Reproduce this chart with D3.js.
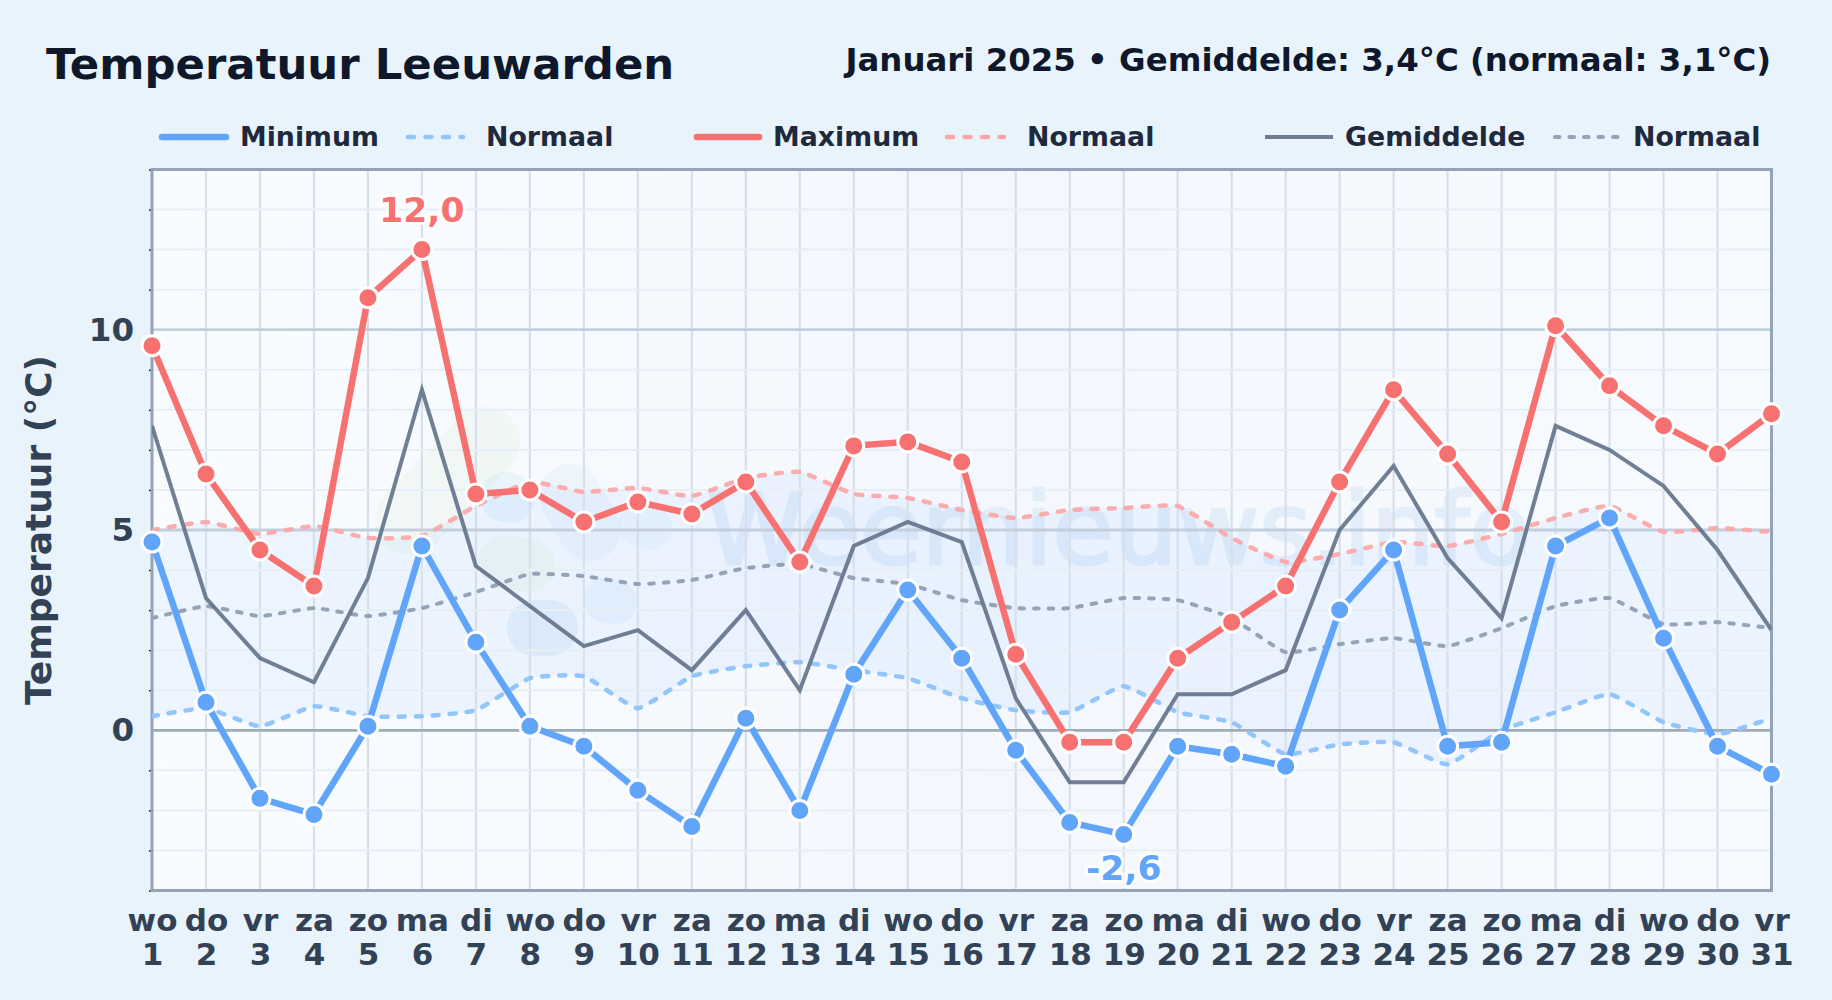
<!DOCTYPE html>
<html>
<head>
<meta charset="utf-8">
<title>Temperatuur Leeuwarden</title>
<script src="https://cdn.jsdelivr.net/npm/d3@7"></script>
<style>
    html, body { margin: 0; padding: 0; background: #e8f3fc; }
    svg { display: block; }
    text { font-family: "DejaVu Sans", sans-serif; font-weight: bold; }
</style>
</head>
<body>
<div id="chart"></div>
<script>
// Values (degrees C, one per day of January 2025)
const days = ['wo','do','vr','za','zo','ma','di','wo','do','vr','za','zo','ma','di','wo','do','vr','za','zo','ma','di','wo','do','vr','za','zo','ma','di','wo','do','vr'];
const dayNumbers = d3.range(1, 32);
const minimum = [4.7,0.7,-1.7,-2.1,0.1,4.6,2.2,0.1,-0.4,-1.5,-2.4,0.3,-2.0,1.4,3.5,1.8,-0.5,-2.3,-2.6,-0.4,-0.6,-0.9,3.0,4.5,-0.4,-0.3,4.6,5.3,2.3,-0.4,-1.1];
const maximum = [9.6,6.4,4.5,3.6,10.8,12.0,5.9,6.0,5.2,5.7,5.4,6.2,4.2,7.1,7.2,6.7,1.9,-0.3,-0.3,1.8,2.7,3.6,6.2,8.5,6.9,5.2,10.1,8.6,7.6,6.9,7.9];
const average = [7.6,3.3,1.8,1.2,3.8,8.5,4.1,3.1,2.1,2.5,1.5,3.0,1.0,4.6,5.2,4.7,0.8,-1.3,-1.3,0.9,0.9,1.5,5.0,6.6,4.3,2.8,7.6,7.0,6.1,4.5,2.5];
const normalMin = [0.35,0.55,0.1,0.6,0.35,0.35,0.5,1.3,1.35,0.55,1.35,1.6,1.7,1.5,1.3,0.8,0.5,0.45,1.1,0.45,0.2,-0.6,-0.35,-0.3,-0.85,0,0.45,0.9,0.2,-0.1,0.3];
const normalMax = [5.0,5.2,4.9,5.1,4.8,4.85,5.6,6.2,5.95,6.05,5.85,6.3,6.45,5.9,5.8,5.5,5.3,5.5,5.55,5.6,4.8,4.2,4.4,4.7,4.6,4.9,5.3,5.6,4.95,5.05,4.95];
const normalAvg = [2.8,3.1,2.85,3.05,2.85,3.05,3.45,3.9,3.85,3.65,3.75,4.05,4.15,3.8,3.65,3.25,3.05,3.05,3.3,3.25,2.8,1.95,2.15,2.3,2.1,2.55,3.1,3.3,2.65,2.7,2.55];
const yTicks = [0, 5, 10];

const config = {
    width: 1832,
    height: 1000,
    left: 152,
    right: 1771.5,
    top: 169.5,
    bottom: 890.5
};

const svg = d3.select('#chart')
    .append('svg')
    .attr('width', config.width)
    .attr('height', config.height);

const x = d3.scaleLinear().domain([1, 31]).range([config.left, config.right]);
const y = d3.scaleLinear().domain([-4, 14]).range([config.bottom, config.top]);

svg.append('rect')
    .attr('width', config.width)
    .attr('height', config.height)
    .attr('fill', '#e8f3fc');

const defs = svg.append('defs');
defs.append('clipPath').attr('id', 'plot-clip')
    .append('rect')
    .attr('x', config.left)
    .attr('y', config.top)
    .attr('width', config.right - config.left)
    .attr('height', config.bottom - config.top);

const plotGradient = defs.append('linearGradient').attr('id', 'plot-bg');
plotGradient.append('stop').attr('offset', '0%').attr('stop-color', '#f9fcff');
plotGradient.append('stop').attr('offset', '50%').attr('stop-color', '#f4f8fe');
plotGradient.append('stop').attr('offset', '100%').attr('stop-color', '#f7fbff');

// Plot background
svg.append('rect')
    .attr('x', config.left)
    .attr('y', config.top)
    .attr('width', config.right - config.left)
    .attr('height', config.bottom - config.top)
    .attr('fill', 'url(#plot-bg)');

// Watermark: logo blobs and site name
const mark = svg.append('g').attr('clip-path', 'url(#plot-clip)');
const blobs = [
    ['#d9eccf', 0.2, 410, 520, 485, 442, 70],
    ['#d9eccf', 0.2, 505, 562, 528, 565, 54],
    ['#bcd9f2', 0.22, 505, 497, 510, 498, 50],
    ['#cfe6f8', 0.24, 570, 495, 590, 530, 62],
    ['#cfe6f8', 0.22, 640, 525, 650, 528, 44],
    ['#bcd9f2', 0.3, 535, 628, 550, 628, 56],
    ['#cfe6f8', 0.3, 605, 600, 615, 602, 44]
];
blobs.forEach(function(b) {
    mark.append('line')
        .attr('x1', b[2]).attr('y1', b[3])
        .attr('x2', b[4]).attr('y2', b[5])
        .attr('stroke', b[0])
        .attr('stroke-opacity', b[1])
        .attr('stroke-width', b[6])
        .attr('stroke-linecap', 'round');
});
mark.append('text')
    .attr('x', 706)
    .attr('y', 564)
    .attr('font-size', 100)
    .style('font-weight', 'normal')
    .attr('fill', '#bcd7f0')
    .attr('stroke', '#bcd7f0')
    .attr('stroke-width', 3)
    .attr('opacity', 0.32)
    .text('Weernieuws.info');

// Band between the normal minimum and normal maximum
const smooth = d3.curveCardinal.tension(0.6);
const band = d3.area()
    .x((d, i) => x(dayNumbers[i]))
    .y0((d, i) => y(normalMin[i]))
    .y1((d, i) => y(normalMax[i]))
    .curve(smooth);
svg.append('path')
    .datum(dayNumbers)
    .attr('clip-path', 'url(#plot-clip)')
    .attr('d', band)
    .attr('fill', '#60a5fa')
    .attr('fill-opacity', 0.08);

// Grid
const grid = svg.append('g');
grid.selectAll('.vgrid')
    .data(dayNumbers)
    .enter()
    .append('line')
    .attr('class', 'vgrid')
    .attr('x1', d => x(d)).attr('x2', d => x(d))
    .attr('y1', config.top).attr('y2', config.bottom)
    .attr('stroke', '#d6e0eb')
    .attr('stroke-width', 2.2);
grid.selectAll('.hgrid')
    .data(d3.range(-4, 15))
    .enter()
    .append('line')
    .attr('class', 'hgrid')
    .attr('x1', config.left).attr('x2', config.right)
    .attr('y1', d => y(d)).attr('y2', d => y(d))
    .attr('stroke', d => d === 0 ? '#9eabb9' : (d % 5 === 0 ? '#c3cfdd' : '#e7eef5'))
    .attr('stroke-width', d => d % 5 === 0 ? 2.8 : 2);

// Axes
const yMinor = svg.append('g')
    .attr('transform', `translate(${config.left},0)`)
    .call(d3.axisLeft(y).tickValues(d3.range(-4, 15).filter(d => d % 5 !== 0)).tickSize(3).tickFormat(''));
yMinor.select('.domain').remove();
yMinor.selectAll('line').attr('stroke', '#111').attr('stroke-width', 1.4);

const yAxis = svg.append('g')
    .attr('transform', `translate(${config.left},0)`)
    .call(d3.axisLeft(y).tickValues(yTicks).tickSize(0).tickPadding(18));
yAxis.select('.domain').remove();
yAxis.selectAll('text')
    .style('font-family', '"DejaVu Sans", sans-serif')
    .style('font-weight', 'bold')
    .style('font-size', '32.5px')
    .attr('fill', '#334155');

const xAxis = svg.append('g')
    .attr('transform', `translate(0,${config.bottom})`)
    .call(d3.axisBottom(x).tickValues(dayNumbers).tickSize(0).tickFormat(''));
xAxis.select('.domain').remove();
xAxis.selectAll('.tick text').each(function(d, i) {
    const t = d3.select(this)
        .attr('y', 0).attr('dy', null)
        .style('font-family', '"DejaVu Sans", sans-serif')
        .style('font-weight', 'bold')
        .style('font-size', '31px')
        .attr('fill', '#334155');
    t.append('tspan').attr('x', 0).attr('y', 40.5).text(days[i]);
    t.append('tspan').attr('x', 0).attr('y', 74).text(dayNumbers[i]);
});

// Plot frame
svg.append('rect')
    .attr('x', config.left)
    .attr('y', config.top)
    .attr('width', config.right - config.left)
    .attr('height', config.bottom - config.top)
    .attr('fill', 'none')
    .attr('stroke', '#94a3b8')
    .attr('stroke-width', 3);

// Line generators
const straight = values => d3.line()
    .x((d, i) => x(dayNumbers[i]))
    .y((d, i) => y(values[i]))(values);
const curved = values => d3.line()
    .x((d, i) => x(dayNumbers[i]))
    .y((d, i) => y(values[i]))
    .curve(smooth)(values);

const lines = svg.append('g').attr('fill', 'none');
const clipped = lines.append('g').attr('clip-path', 'url(#plot-clip)');

clipped.append('path').attr('d', curved(normalMin))
    .attr('stroke', '#93c5fd').attr('stroke-width', 4.5).attr('stroke-dasharray', '6,11').attr('stroke-linecap', 'round');
clipped.append('path').attr('d', curved(normalMax))
    .attr('stroke', '#fca5a5').attr('stroke-opacity', 0.9).attr('stroke-width', 4.5).attr('stroke-dasharray', '6,11').attr('stroke-linecap', 'round');
clipped.append('path').attr('d', curved(normalAvg))
    .attr('stroke', '#94a3b8').attr('stroke-width', 4).attr('stroke-dasharray', '4.5,10').attr('stroke-linecap', 'round');
clipped.append('path').attr('d', straight(average))
    .attr('stroke', '#64748b').attr('stroke-width', 4).attr('stroke-opacity', 0.92);

function drawDots(values, color) {
    lines.append('path').attr('d', straight(values))
        .attr('stroke', color).attr('stroke-width', 6.5);
    svg.append('g').selectAll('circle')
        .data(values)
        .enter()
        .append('circle')
        .attr('cx', (d, i) => x(dayNumbers[i]))
        .attr('cy', d => y(d))
        .attr('r', 10)
        .attr('fill', color)
        .attr('stroke', '#ffffff')
        .attr('stroke-width', 3);
}
drawDots(minimum, '#60a5fa');
drawDots(maximum, '#f87171');

// Extreme value labels
function extremeLabel(value, day, dy, color) {
    svg.append('text')
        .attr('x', x(day))
        .attr('y', y(value) + dy)
        .attr('text-anchor', 'middle')
        .attr('font-size', 34.5)
        .attr('fill', color)
        .attr('stroke', '#ffffff')
        .attr('stroke-width', 6)
        .attr('stroke-opacity', 0.9)
        .attr('paint-order', 'stroke')
        .text(String(value.toFixed(1)).replace('.', ','));
}
extremeLabel(d3.max(maximum), dayNumbers[maximum.indexOf(d3.max(maximum))], -28, '#f87171');
extremeLabel(d3.min(minimum), dayNumbers[minimum.indexOf(d3.min(minimum))], 46, '#60a5fa');

// Titles
svg.append('text')
    .attr('x', 46).attr('y', 78.5)
    .attr('font-size', 43.4)
    .attr('fill', '#0f172a')
    .text('Temperatuur Leeuwarden');
svg.append('text')
    .attr('x', 1771).attr('y', 70.5)
    .attr('text-anchor', 'end')
    .attr('font-size', 32.4)
    .attr('fill', '#0f172a')
    .text('Januari 2025 \u2022 Gemiddelde: 3,4\u00B0C (normaal: 3,1\u00B0C)');
svg.append('text')
    .attr('transform', `translate(50.5,530) rotate(-90)`)
    .attr('text-anchor', 'middle')
    .attr('font-size', 36)
    .attr('fill', '#334155')
    .text('Temperatuur (\u00B0C)');

// Legend
const legendItems = [
    { label: 'Minimum', x1: 162, x2: 226, tx: 240, color: '#60a5fa', w: 6.5 },
    { label: 'Normaal', x1: 408, x2: 463, tx: 486, color: '#93c5fd', w: 4.5, dash: '6,11.5' },
    { label: 'Maximum', x1: 697, x2: 759, tx: 773, color: '#f87171', w: 6.5 },
    { label: 'Normaal', x1: 947, x2: 1004, tx: 1027, color: '#fca5a5', w: 4.5, dash: '6,11.5' },
    { label: 'Gemiddelde', x1: 1265, x2: 1333, tx: 1345, color: '#64748b', w: 4 },
    { label: 'Normaal', x1: 1555, x2: 1618, tx: 1633, color: '#94a3b8', w: 4, dash: '4.5,10' }
];
const legend = svg.append('g');
legendItems.forEach(function(d) {
    legend.append('line')
        .attr('x1', d.x1).attr('x2', d.x2)
        .attr('y1', 137).attr('y2', 137)
        .attr('stroke', d.color)
        .attr('stroke-width', d.w)
        .attr('stroke-opacity', d.label === 'Gemiddelde' ? 0.92 : 1)
        .attr('stroke-linecap', d.label === 'Gemiddelde' ? 'butt' : 'round')
        .attr('stroke-dasharray', d.dash || null);
    legend.append('text')
        .attr('x', d.tx).attr('y', 146)
        .attr('font-size', 26.8)
        .attr('fill', '#1e293b')
        .text(d.label);
});
</script>
</body>
</html>
